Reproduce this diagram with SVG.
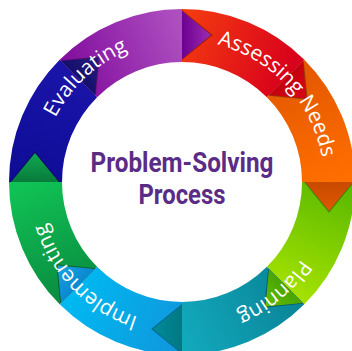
<svg xmlns="http://www.w3.org/2000/svg" xmlns:xlink="http://www.w3.org/1999/xlink" width="352" height="351" viewBox="0 0 352 351">
<style>
.lbl{font-family:"Open Sans","DejaVu Sans",sans-serif;font-size:21px;fill:#ffffff;text-anchor:middle;}
.lbs{font-family:"Open Sans","DejaVu Sans",sans-serif;font-size:21px;fill:#ffffff;text-anchor:start;}
.title{font-family:Roboto,"Liberation Sans",sans-serif;font-weight:700;font-size:28px;fill:#5b2c86;text-anchor:middle;}
.shadow{fill:#000000;fill-opacity:0.35;}
</style>
<defs>
<path id="seg" d="M 59.67 59.67 A 173 173 0 0 1 182 9 L 182 62 A 120 120 0 0 0 97.15 97.15 Z"/>
<path id="tri" d="M 182 11 L 211 35 L 182 59 Z"/>
<path id="trish" d="M 182 10 L 212.8 35 L 182 60 Z"/>
<path id="tp" d="M 182 40 A 142 142 0 0 1 182 324 A 142 142 0 0 1 182 40" fill="none"/>
<linearGradient id="gPurple" gradientUnits="userSpaceOnUse" x1="70" y1="75" x2="182" y2="30"><stop offset="0" stop-color="#820e9e"/><stop offset="1" stop-color="#ae4fc0"/></linearGradient>
<linearGradient id="gRed" gradientUnits="userSpaceOnUse" x1="70" y1="75" x2="182" y2="30"><stop offset="0" stop-color="#f43c10"/><stop offset="1" stop-color="#d8001c"/></linearGradient>
<linearGradient id="gOrange" gradientUnits="userSpaceOnUse" x1="70" y1="75" x2="182" y2="30"><stop offset="0" stop-color="#e35800"/><stop offset="1" stop-color="#ff6e00"/></linearGradient>
<linearGradient id="gLime" gradientUnits="userSpaceOnUse" x1="70" y1="75" x2="182" y2="30"><stop offset="0" stop-color="#58b800"/><stop offset="1" stop-color="#a2e000"/></linearGradient>
<linearGradient id="gTeal" gradientUnits="userSpaceOnUse" x1="70" y1="75" x2="182" y2="30"><stop offset="0" stop-color="#0a8498"/><stop offset="1" stop-color="#12a8bc"/></linearGradient>
<linearGradient id="gBlue" gradientUnits="userSpaceOnUse" x1="70" y1="75" x2="182" y2="30"><stop offset="0" stop-color="#1096dc"/><stop offset="1" stop-color="#00b8f0"/></linearGradient>
<linearGradient id="gGreen" gradientUnits="userSpaceOnUse" x1="70" y1="75" x2="182" y2="30"><stop offset="0" stop-color="#0a8c40"/><stop offset="1" stop-color="#10c255"/></linearGradient>
<linearGradient id="gNavy" gradientUnits="userSpaceOnUse" x1="70" y1="75" x2="182" y2="30"><stop offset="0" stop-color="#0e0c96"/><stop offset="1" stop-color="#1a14a8"/></linearGradient>
<linearGradient id="tPurple" gradientUnits="userSpaceOnUse" x1="182" y1="35" x2="211" y2="35"><stop offset="0" stop-color="#6c0090"/><stop offset="1" stop-color="#9c2cb4"/></linearGradient>
<linearGradient id="tRed" gradientUnits="userSpaceOnUse" x1="182" y1="35" x2="211" y2="35"><stop offset="0" stop-color="#c4000e"/><stop offset="1" stop-color="#d80818"/></linearGradient>
<linearGradient id="tOrange" gradientUnits="userSpaceOnUse" x1="182" y1="35" x2="211" y2="35"><stop offset="0" stop-color="#c84a00"/><stop offset="1" stop-color="#e05800"/></linearGradient>
<linearGradient id="tLime" gradientUnits="userSpaceOnUse" x1="182" y1="35" x2="211" y2="35"><stop offset="0" stop-color="#48a400"/><stop offset="1" stop-color="#64be00"/></linearGradient>
<linearGradient id="tTeal" gradientUnits="userSpaceOnUse" x1="182" y1="35" x2="211" y2="35"><stop offset="0" stop-color="#007884"/><stop offset="1" stop-color="#008c98"/></linearGradient>
<linearGradient id="tBlue" gradientUnits="userSpaceOnUse" x1="182" y1="35" x2="211" y2="35"><stop offset="0" stop-color="#0a88d0"/><stop offset="1" stop-color="#1aa4e4"/></linearGradient>
<linearGradient id="tGreen" gradientUnits="userSpaceOnUse" x1="182" y1="35" x2="211" y2="35"><stop offset="0" stop-color="#087a3c"/><stop offset="1" stop-color="#10a850"/></linearGradient>
<linearGradient id="tNavy" gradientUnits="userSpaceOnUse" x1="182" y1="35" x2="211" y2="35"><stop offset="0" stop-color="#14106a"/><stop offset="1" stop-color="#281a80"/></linearGradient>
</defs>
<rect width="352" height="351" fill="#ffffff"/>
<g id="ring">
<use xlink:href="#seg" fill="url(#gPurple)"/>
<use xlink:href="#seg" fill="url(#gRed)" transform="rotate(45 182 182)"/>
<use xlink:href="#seg" fill="url(#gOrange)" transform="rotate(90 182 182)"/>
<use xlink:href="#seg" fill="url(#gLime)" transform="rotate(135 182 182)"/>
<use xlink:href="#seg" fill="url(#gTeal)" transform="rotate(180 182 182)"/>
<use xlink:href="#seg" fill="url(#gBlue)" transform="rotate(225 182 182)"/>
<use xlink:href="#seg" fill="url(#gGreen)" transform="rotate(270 182 182)"/>
<use xlink:href="#seg" fill="url(#gNavy)" transform="rotate(315 182 182)"/>
</g>
<g id="connectors">
<g><use xlink:href="#trish" class="shadow"/><use xlink:href="#tri" fill="url(#tPurple)"/></g>
<g transform="rotate(45 182 182)"><use xlink:href="#trish" class="shadow"/><use xlink:href="#tri" fill="url(#tRed)"/></g>
<g transform="rotate(90 182 182)"><use xlink:href="#trish" class="shadow"/><use xlink:href="#tri" fill="url(#tOrange)"/></g>
<g transform="rotate(135 182 182)"><use xlink:href="#trish" class="shadow"/><use xlink:href="#tri" fill="url(#tLime)"/></g>
<g transform="rotate(180 182 182)"><use xlink:href="#trish" class="shadow"/><use xlink:href="#tri" fill="url(#tTeal)"/></g>
<g transform="rotate(225 182 182)"><use xlink:href="#trish" class="shadow"/><use xlink:href="#tri" fill="url(#tBlue)"/></g>
<g transform="rotate(270 182 182)"><use xlink:href="#trish" class="shadow"/><use xlink:href="#tri" fill="url(#tGreen)"/></g>
<g transform="rotate(315 182 182)"><use xlink:href="#trish" class="shadow"/><use xlink:href="#tri" fill="url(#tNavy)"/></g>
</g>
<g id="assessing-needs">
<text class="lbs"><textPath xlink:href="#tp" startOffset="35.5">Assessing</textPath></text>
<text class="lbs"><textPath xlink:href="#tp" startOffset="136.2">Needs</textPath></text>
</g>
<g id="planning"><text class="lbl"><textPath xlink:href="#tp" startOffset="347">Planning</textPath></text></g>
<g id="implementing"><text class="lbl"><textPath xlink:href="#tp" startOffset="559">Implementing</textPath></text></g>
<g id="evaluating"><text class="lbl"><textPath xlink:href="#tp" startOffset="786">Evaluating</textPath></text></g>
<g id="center">
<text class="title" x="182" y="172" textLength="183" lengthAdjust="spacingAndGlyphs">Problem-Solving</text>
<text class="title" x="182" y="204" textLength="87" lengthAdjust="spacingAndGlyphs">Process</text>
</g>
</svg>
